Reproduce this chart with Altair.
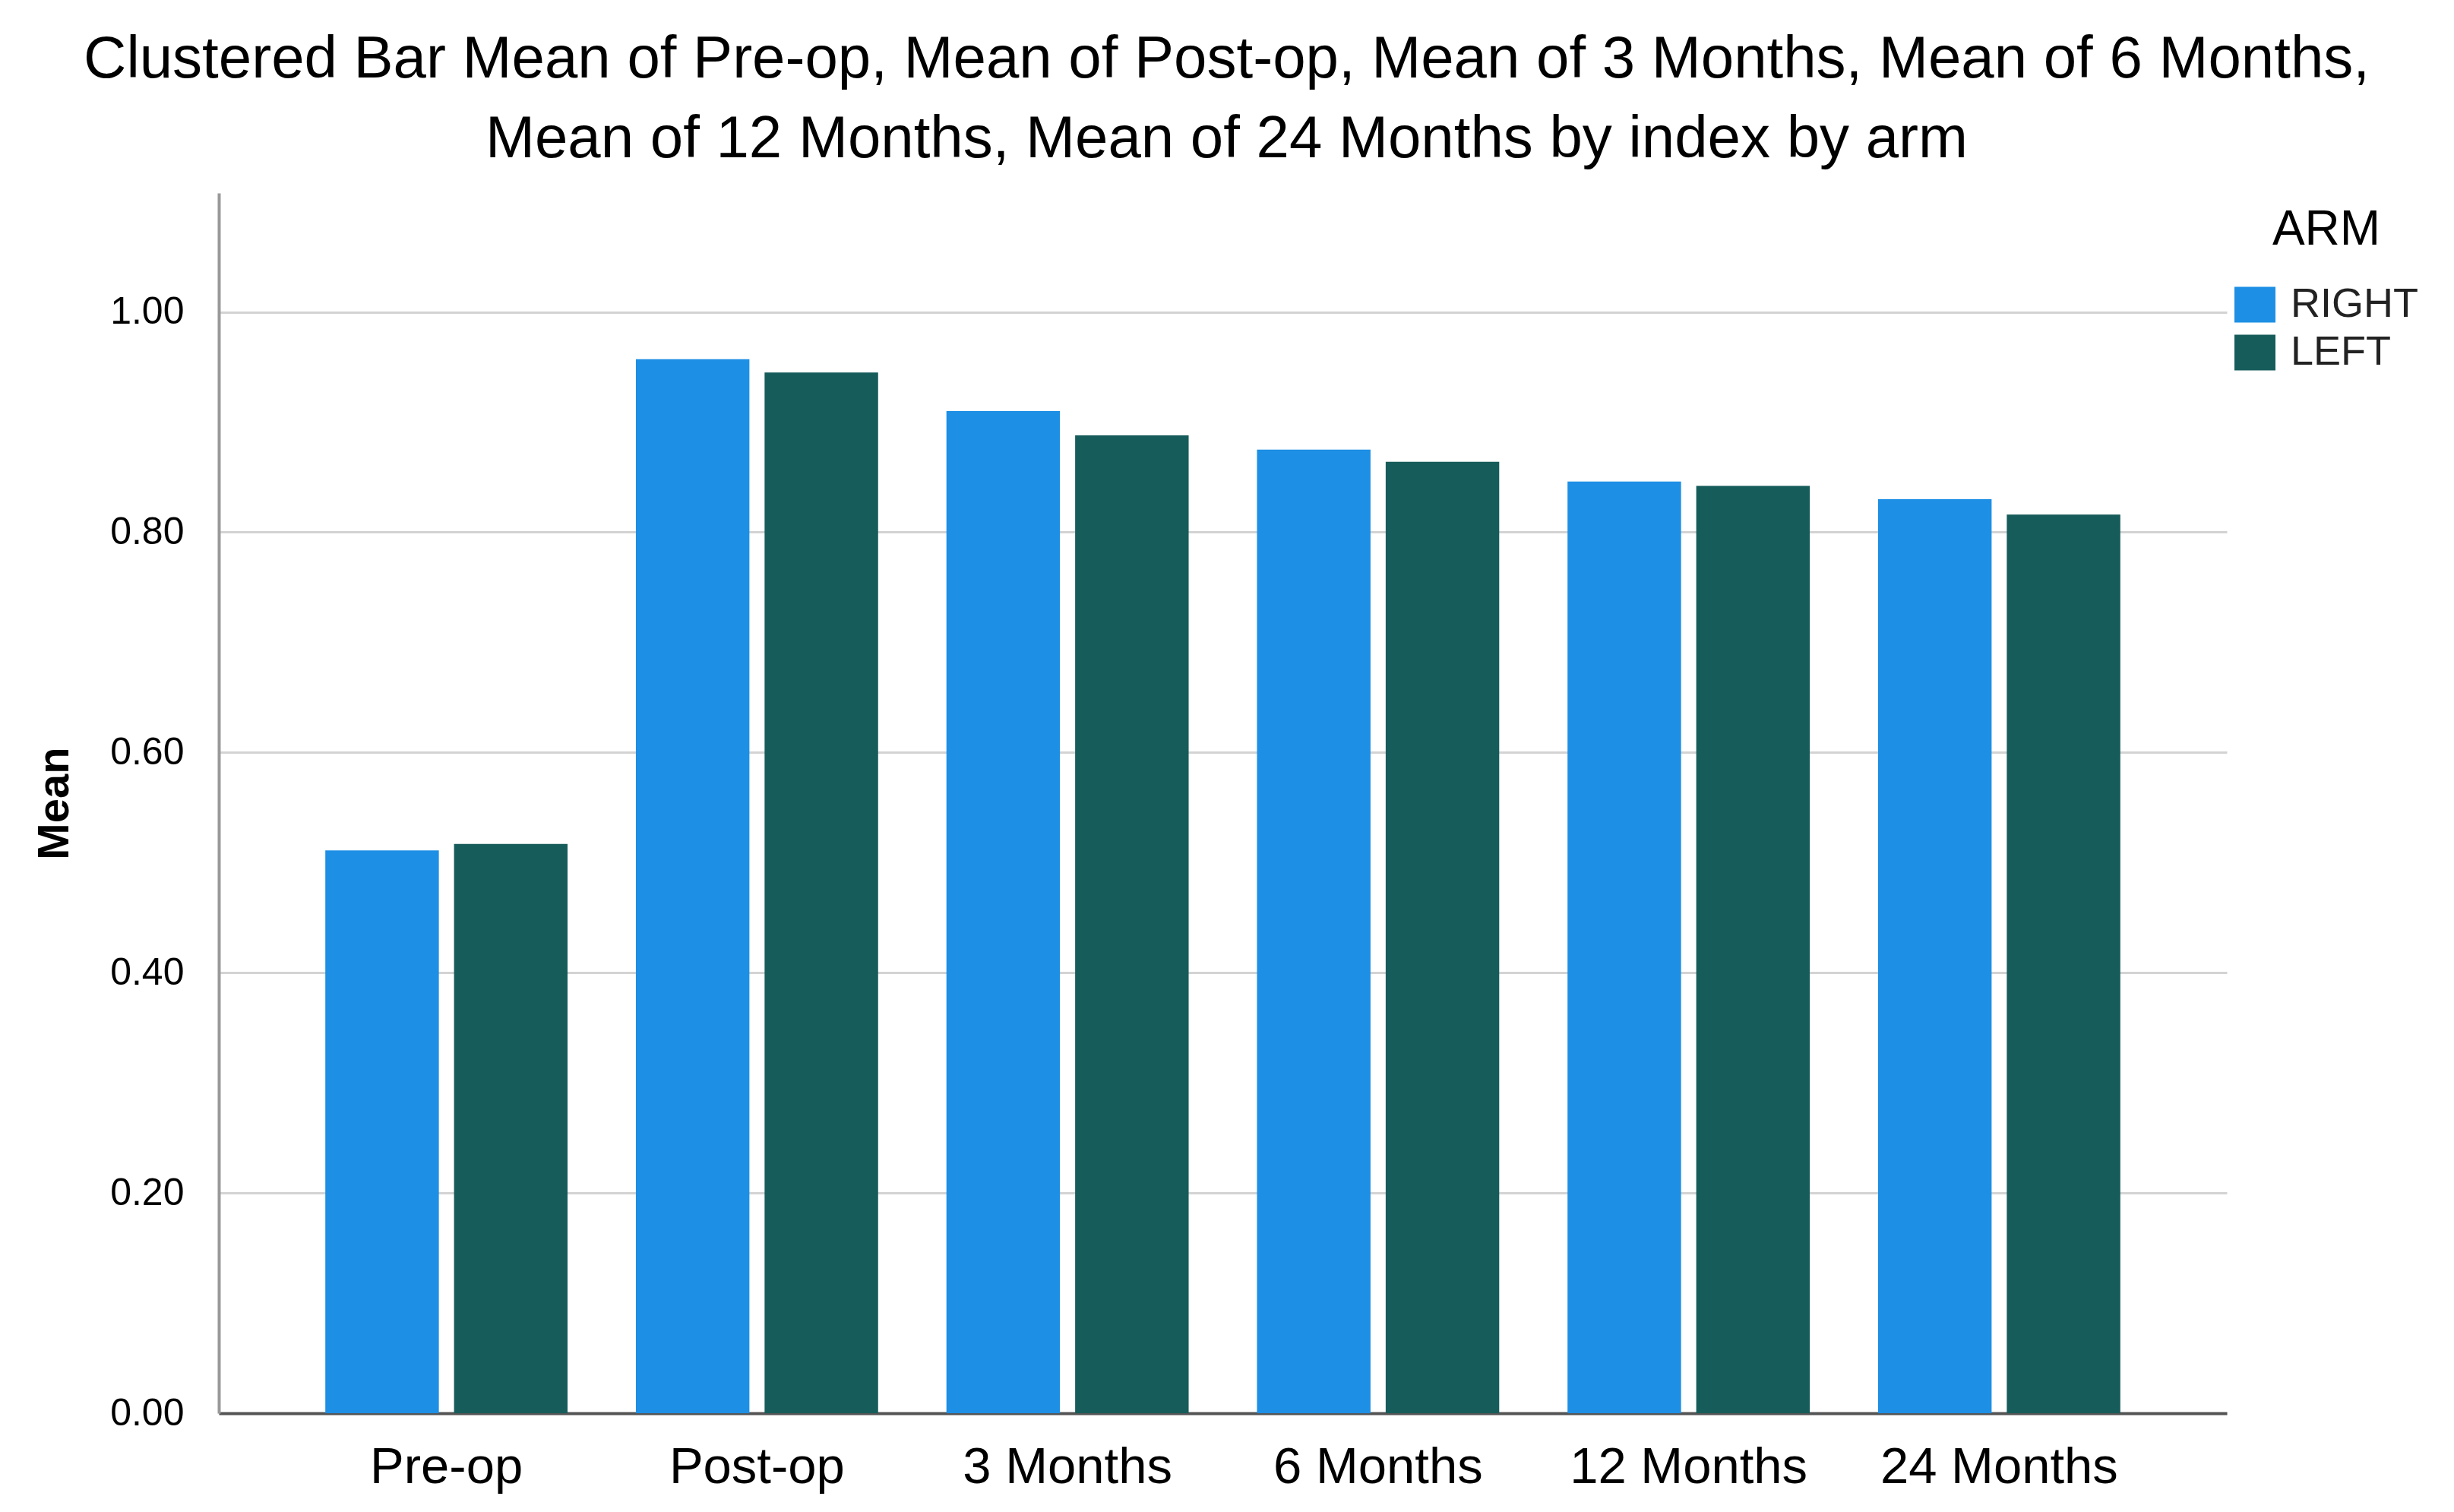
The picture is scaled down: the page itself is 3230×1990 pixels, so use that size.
import altair as alt
import pandas as pd

categories = ["Pre-op", "Post-op", "3 Months", "6 Months", "12 Months", "24 Months"]
arms = ["RIGHT", "LEFT"]
right_values = [0.511, 0.957, 0.910, 0.875, 0.846, 0.830]
left_values = [0.517, 0.945, 0.888, 0.864, 0.842, 0.816]
arm_colors = ["#1D8FE4", "#165C5A"]
y_ticks = [0.0, 0.2, 0.4, 0.6, 0.8, 1.0]
title_lines = [
    "Clustered Bar Mean of Pre-op, Mean of Post-op, Mean of 3 Months, Mean of 6 Months,",
    "Mean of 12 Months, Mean of 24 Months by index by arm",
]

rows = []
for c, r, l in zip(categories, right_values, left_values):
    rows.append({"index": c, "arm": "RIGHT", "mean": r})
    rows.append({"index": c, "arm": "LEFT", "mean": l})
df = pd.DataFrame(rows)

W = 2643
H = 1606

chart = (
    alt.Chart(df)
    .mark_bar()
    .encode(
        x=alt.X(
            "index:N",
            sort=categories,
            scale=alt.Scale(paddingInner=0.22, paddingOuter=0.343),
            axis=alt.Axis(
                title=None,
                labelAngle=0,
                labelFont="Liberation Sans",
                labelFontSize=67,
                labelColor="#000000",
                labelPadding=38,
                labelLimit=0,
                ticks=False,
                grid=False,
                domainColor="#555555",
                domainWidth=4,
            ),
        ),
        xOffset=alt.XOffset(
            "arm:N",
            sort=arms,
            scale=alt.Scale(paddingInner=0.118, paddingOuter=0),
        ),
        y=alt.Y(
            "mean:Q",
            scale=alt.Scale(domain=[0, 1.108], nice=False),
            axis=alt.Axis(
                title="Mean",
                values=y_ticks,
                format=".2f",
                labelFont="Liberation Sans",
                labelFontSize=50,
                labelColor="#000000",
                labelPadding=46,
                labelLimit=0,
                ticks=False,
                domainColor="#999999",
                domainWidth=4,
                gridColor="#D3D3D3",
                gridWidth=3,
                titleFont="Liberation Sans",
                titleFontSize=58,
                titleFontWeight="bold",
                titleColor="#000000",
                titleX=-187,
                titleY=803,
                titleAlign="center",
                titleBaseline="bottom",
            ),
        ),
        color=alt.Color(
            "arm:N",
            sort=arms,
            scale=alt.Scale(domain=arms, range=arm_colors),
            legend=alt.Legend(
                title="ARM",
                orient="none",
                legendX=2653,
                legendY=17,
                padding=0,
                titleFont="Liberation Sans",
                titleFontSize=64,
                titleFontWeight="normal",
                titleColor="#000000",
                titlePadding=39,
                titleAnchor="middle",
                labelFont="Liberation Sans",
                labelFontSize=54,
                labelColor="#222222",
                labelOffset=20,
                labelLimit=0,
                symbolType="M-1,-0.87H1V0.87H-1Z",
                symbolSize=2916,
                symbolStrokeWidth=0,
                rowPadding=9,
            ),
        ),
    )
    .properties(
        width=W,
        height=H,
        title=alt.TitleParams(
            text=title_lines,
            font="Liberation Sans",
            fontSize=78,
            fontWeight="normal",
            color="#000000",
            lineHeight=105,
            anchor="middle",
            frame="group",
            offset=31,
            dx=5,
        ),
        padding={"left": 280, "top": 246, "right": 291, "bottom": 118},
        autosize=alt.AutoSizeParams(type="none"),
    )
    .configure_view(strokeWidth=0)
)

chart.save("out.html", embed_options={"renderer": "svg", "actions": False})
